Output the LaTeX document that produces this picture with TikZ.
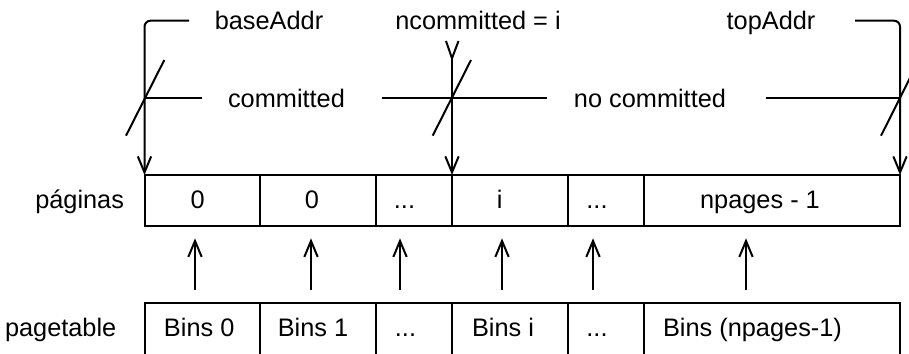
\documentclass[tikz,border=0pt]{standalone}
\usepackage{fontspec}
\setmainfont{Liberation Sans}
\usetikzlibrary{arrows.meta}
\begin{document}
\begin{tikzpicture}[x=0.75pt,y=-0.75pt,
  line width=1.5pt,
  arr/.style={-{Straight Barb[length=12pt,width=10pt]}},
  cell/.style={draw, inner sep=0pt, outer sep=0pt, minimum height=38pt},
  bcell/.style={draw, inner sep=0pt, outer sep=0pt, minimum height=39.15pt},
  lbl/.style={inner sep=0pt, anchor=base, font=\fontsize{19}{23}\selectfont},
  lblr/.style={inner sep=0pt, anchor=base east, font=\fontsize{19}{23}\selectfont},
]
\useasboundingbox (0,0) rectangle (909,353);

% top row cells (páginas)
\node[cell, minimum width=86.625pt] (p1) at (202.25,200.35) {};
\node[cell, minimum width=87pt]     (p2) at (318,200.35) {};
\node[cell, minimum width=57pt]     (p3) at (414,200.35) {};
\node[cell, minimum width=86.625pt] (p4) at (509.75,200.35) {};
\node[cell, minimum width=57.375pt] (p5) at (605.75,200.35) {};
\node[cell, minimum width=192pt]    (p6) at (772,200.35) {};

% bottom row cells (pagetable)
\node[bcell, minimum width=86.625pt] (b1) at (202.25,329.4) {};
\node[bcell, minimum width=87pt]     (b2) at (318,329.4) {};
\node[bcell, minimum width=57pt]     (b3) at (414,329.4) {};
\node[bcell, minimum width=86.625pt] (b4) at (509.75,329.4) {};
\node[bcell, minimum width=57.375pt] (b5) at (605.75,329.4) {};
\node[bcell, minimum width=192pt]    (b6) at (772,329.4) {};

% cell texts
\node[lbl] (t1) at (197.7,208.5) {0};
\node[lbl] (t2) at (312,208.5) {0};
\node[lbl] (t3) at (404.5,208.5) {...};
\node[lbl] (t4) at (499.7,208.5) {i};
\node[lbl] (t5) at (597,208.5) {...};
\node[lbl] (t6) at (760,208.5) {npages - 1};

\node[lbl] (u1) at (199.2,336.5) {Bins 0};
\node[lbl] (u2) at (313,336.5) {Bins 1};
\node[lbl] (u3) at (405.5,336.5) {...};
\node[lbl] (u4) at (503,336.5) {Bins i};
\node[lbl] (u5) at (597,336.5) {...};
\node[lbl] (u6) at (752.5,336.5) {Bins (npages-1)};

% row labels
\node[lblr] (paginas) at (125,208.5) {páginas};
\node[lblr] (pagetable) at (117.3,336.5) {pagetable};

% top labels
\node[lbl] (base) at (269,29.5) {baseAddr};
\node[lbl] (ncom) at (478,29.5) {ncommitted = i};
\node[lbl] (top) at (771,29.5) {topAddr};
\node[lbl] (com) at (286.5,107) {committed};
\node[lbl] (nocom) at (650,107) {no committed};

% address pointers
\coordinate (bl) at (189,20.7);
\coordinate (bc) at (144.5,20.7);
\draw[arr, rounded corners=4.5pt] (bl) -- (bc) -- (p1.north west);
\coordinate (tr) at (855,20.7);
\coordinate (tc) at (900,20.7);
\draw[arr, rounded corners=4.5pt] (tr) -- (tc) -- (p6.north east);
\coordinate (ytip) at (452,58.3);
\draw (446,41) -- (ytip) -- (458.5,41);
\draw[arr] (ytip) -- (p4.north west);

% range lines
\draw (144.5,97.7) -- (201.7,97.7);
\draw (381.7,97.7) -- (546.7,97.7);
\draw (765.7,97.7) -- (900,97.7);

% slash marks
\draw (126,135.7) -- (164.3,60);
\draw (432.7,135.7) -- (471,60);
\draw (881,135.7) -- (919,60);

% up arrows
\foreach \x/\n in {195/1, 311/2, 400/3, 502/4, 593/5, 746/6} {
  \coordinate (ua\n) at (\x,290);
  \coordinate (ub\n) at (\x,238.3);
  \draw[arr] (ua\n) -- (ub\n);
}
\end{tikzpicture}
\end{document}
